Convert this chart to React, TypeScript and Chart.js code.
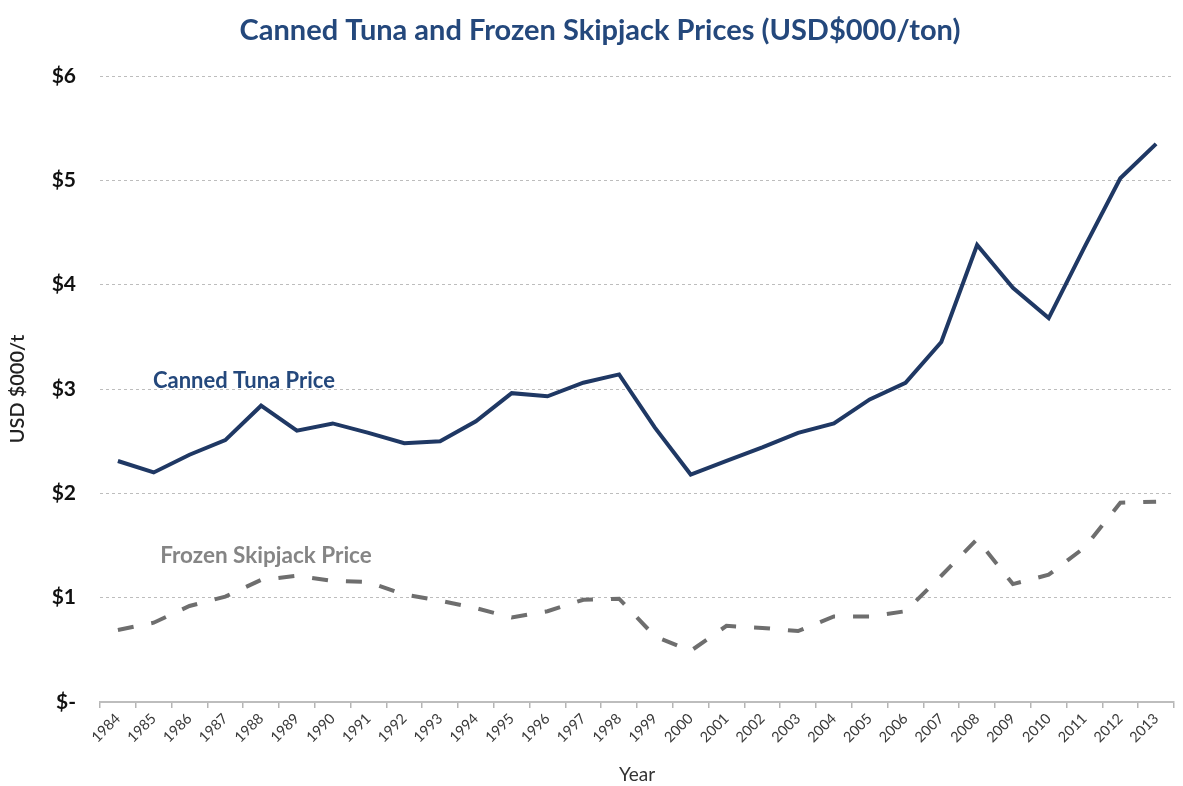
import React, { useEffect, useRef } from "react";
import { Chart, registerables } from "chart.js";

Chart.register(...registerables);

const years = [
  "1984", "1985", "1986", "1987", "1988", "1989", "1990", "1991", "1992", "1993",
  "1994", "1995", "1996", "1997", "1998", "1999", "2000", "2001", "2002", "2003",
  "2004", "2005", "2006", "2007", "2008", "2009", "2010", "2011", "2012", "2013",
];

const cannedTunaPrice = [
  2.31, 2.2, 2.37, 2.51, 2.84, 2.6, 2.67, 2.58, 2.48, 2.5,
  2.69, 2.96, 2.93, 3.06, 3.14, 2.63, 2.18, 2.31, 2.44, 2.58,
  2.67, 2.9, 3.06, 3.45, 4.38, 3.97, 3.68, 4.36, 5.02, 5.35,
];

const frozenSkipjackPrice = [
  0.69, 0.76, 0.92, 1.01, 1.17, 1.21, 1.16, 1.15, 1.03, 0.97,
  0.9, 0.81, 0.87, 0.98, 0.99, 0.63, 0.49, 0.73, 0.71, 0.68,
  0.82, 0.82, 0.87, 1.21, 1.56, 1.13, 1.22, 1.48, 1.91, 1.92,
];

const yTicks = [0, 1, 2, 3, 4, 5, 6];

const TITLE = "Canned Tuna and Frozen Skipjack Prices (USD$000/ton)";
const Y_TITLE = "USD $000/t";
const X_TITLE = "Year";
const CANNED_LABEL = "Canned Tuna Price";
const FROZEN_LABEL = "Frozen Skipjack Price";

const FONT = "Lato, 'Open Sans', 'DejaVu Sans', sans-serif";

const overlayPlugin = {
  id: "overlayText",
  afterDraw(chart: any) {
    const { ctx, scales } = chart;
    const x = scales.x;
    const y = scales.y;
    ctx.save();
    // Title
    ctx.font = `bold 29px ${FONT}`;
    ctx.fillStyle = "#24487c";
    ctx.textAlign = "center";
    ctx.textBaseline = "middle";
    ctx.fillText(TITLE, 600, 31);

    // Series labels
    ctx.textAlign = "left";
    ctx.font = `bold 22px ${FONT}`;
    ctx.fillStyle = "#24487c";
    ctx.fillText(CANNED_LABEL, x.getPixelForValue(0.98), y.getPixelForValue(3.08));
    ctx.font = `bold 22.5px ${FONT}`;
    ctx.fillStyle = "#858585";
    ctx.fillText(FROZEN_LABEL, x.getPixelForValue(1.18), y.getPixelForValue(1.4));
    ctx.restore();
  },
};

export default function App() {
  const canvasRef = useRef<HTMLCanvasElement | null>(null);

  useEffect(() => {
    if (!canvasRef.current) return;
    const chart = new Chart(canvasRef.current, {
      type: "line",
      data: {
        labels: years,
        datasets: [
          {
            label: CANNED_LABEL,
            data: cannedTunaPrice,
            borderColor: "#1f3864",
            borderWidth: 4,
            pointRadius: 0,
            tension: 0,
            fill: false,
          },
          {
            label: FROZEN_LABEL,
            data: frozenSkipjackPrice,
            borderColor: "#6e6e6e",
            borderWidth: 4,
            borderDash: [16, 18],
            pointRadius: 0,
            tension: 0,
            fill: false,
          },
        ],
      },
      options: {
        responsive: false,
        animation: false,
        layout: { padding: { top: 76, right: 9, left: 0, bottom: 0 } },
        plugins: {
          legend: { display: false },
          title: { display: false },
          tooltip: { enabled: false },
        },
        scales: {
          x: {
            type: "category",
            offset: true,
            grid: {
              display: true,
              drawOnChartArea: false,
              drawTicks: true,
              tickLength: 6,
              offset: true,
              color: "#b5b5b5",
              lineWidth: 1.5,
            },
            border: { display: true, color: "#bdbdbd", width: 2 },
            ticks: {
              autoSkip: false,
              minRotation: 45,
              maxRotation: 45,
              padding: 2,
              color: "#3a3a3a",
              font: { family: FONT, size: 14.5 },
            },
            title: {
              display: true,
              text: X_TITLE,
              color: "#333333",
              font: { family: FONT, size: 19 },
              padding: { top: 0, bottom: 0 },
            },
            afterFit(scale: any) {
              scale.height = 84;
            },
          },
          y: {
            min: 0,
            max: 6,
            afterBuildTicks(scale: any) {
              scale.ticks = yTicks.map((v) => ({ value: v }));
            },
            grid: {
              display: true,
              drawTicks: false,
              color: "#bdbdbd",
              lineWidth: 1,
            },
            border: { display: false, dash: [3, 3] },
            ticks: {
              padding: 24,
              color: "#111111",
              font: { family: FONT, size: 21, weight: "bold" },
              callback: (v: any) => (Number(v) === 0 ? "$-" : "$" + v),
            },
            title: {
              display: true,
              text: Y_TITLE,
              color: "#222222",
              font: { family: FONT, size: 20, weight: "600" },
              padding: { top: 6, bottom: 0 },
            },
            afterFit(scale: any) {
              scale.width = 100;
            },
          },
        },
      },
      plugins: [overlayPlugin],
    } as any);
    return () => chart.destroy();
  }, []);

  return (
    <canvas
      ref={canvasRef}
      width={1183}
      height={786}
      style={{ position: "absolute", left: 0, top: 0, width: 1183, height: 786 }}
    />
  );
}
